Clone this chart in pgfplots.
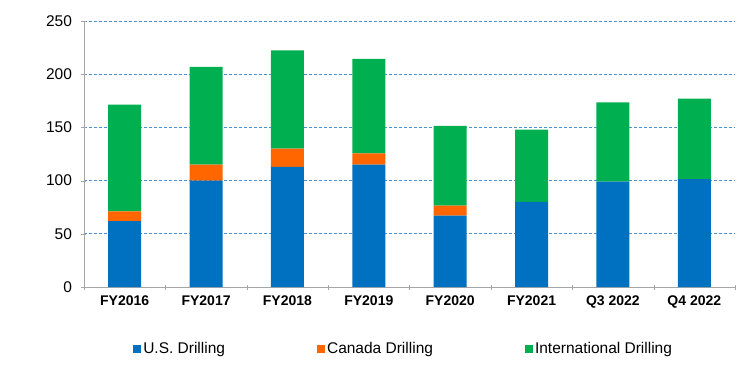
\documentclass[border=0pt]{standalone}
\usepackage{pgfplots}
\pgfplotsset{compat=1.18}
\usepackage{fontspec}
\setmainfont{Liberation Sans}
\definecolor{usb}{HTML}{0070C0}
\definecolor{cao}{HTML}{FF6600}
\definecolor{intg}{HTML}{00B050}
\definecolor{gridb}{HTML}{4A90D2}
\begin{document}
\begin{tikzpicture}
\path[use as bounding box] (-84bp,-88bp) rectangle (666bp,287bp);
\begin{axis}[at={(0,0)}, anchor=south west, scale only axis,
  width=651bp, height=266bp,
  ybar stacked, bar width=33bp,
  xmin=-0.5, xmax=7.5, ymin=0, ymax=250,
  xtick={0,...,7},
  xticklabels={FY2016,FY2017,FY2018,FY2019,FY2020,FY2021,Q3 2022,Q4 2022},
  minor xtick={-0.5,0.5,...,7.5},
  major x tick style={draw=none},
  minor x tick style={draw=gray!70},
  minor tick length=5bp,
  ytick={0,50,...,250},
  major tick length=5bp,
  tick align=outside,
  ytick style={draw=gray!70},
  ymajorgrids, grid style={dash pattern=on 3bp off 2bp, color=gridb, line width=0.7bp},
  axis x line=bottom, axis y line=left,
  axis line style={-, draw=gray!70, line width=0.8bp},
  x tick label style={font=\fontsize{14bp}{16bp}\selectfont\bfseries, yshift=-3bp},
  y tick label style={font=\fontsize{15.5bp}{17bp}\selectfont, xshift=-6bp},
  /pgf/number format/assume math mode=true,
  legend columns=3,
  legend style={at={(0.491,-0.233)}, anchor=center, draw=none, fill=none,
    font=\fontsize{15.5bp}{17bp}\selectfont,
    /tikz/every even column/.append style={column sep=90bp},
    inner xsep=0pt},
  legend image code/.code={\fill[#1] (0bp,-4bp) rectangle (8bp,4bp);},
]
\addplot[fill=usb, draw=none] coordinates {(0,62) (1,100) (2,113) (3,115) (4,67) (5,80) (6,99) (7,101.5)};
\addplot[fill=cao, draw=none] coordinates {(0,9) (1,15) (2,17) (3,10.5) (4,9.5) (5,0) (6,0) (7,0)};
\addplot[fill=intg, draw=none] coordinates {(0,100.5) (1,92) (2,92.5) (3,89) (4,75) (5,68) (6,74.5) (7,75.5)};
\legend{U.S. Drilling, Canada Drilling, International Drilling}
\end{axis}
\end{tikzpicture}
\end{document}
